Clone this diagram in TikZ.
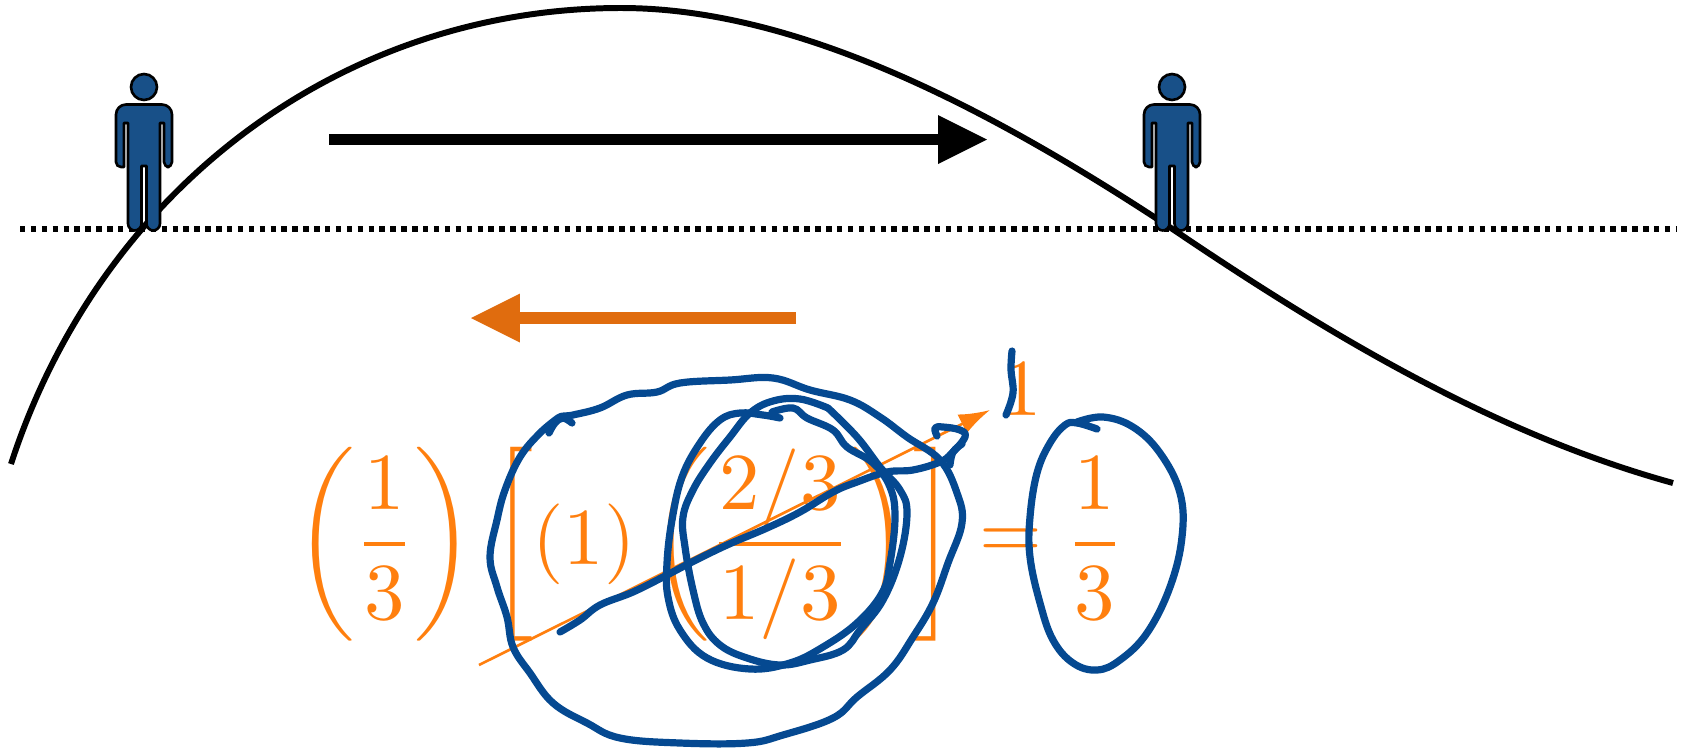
\documentclass[tikz,border=0pt]{standalone}
\usepackage{amsmath, amssymb}
\usepackage{xcolor}
\usetikzlibrary{arrows.meta, positioning, calc}
\definecolor{inkblue}{RGB}{5,73,145}
\definecolor{figblue}{RGB}{24,80,136}
\definecolor{mathorange}{RGB}{255,127,14}
\definecolor{arroworange}{RGB}{224,108,14}
\newcommand{\fracstrut}{\vphantom{\left(\dfrac{1}{3}\right)}}

\begin{document}
\begin{tikzpicture}[
  x=0.02cm, y=-0.02cm,
  curve/.style={line width=3.4pt, black},
  ground/.style={line width=3pt, black, dash pattern=on 3.1pt off 3.1pt},
  bigarr/.style={-{Triangle[length=0.98cm, width=0.98cm, line width=0pt]}, line width=6.8pt},
  ink/.style={line width=4.1pt, inkblue, line cap=round, line join=round},
  eqn/.style={inner sep=0pt, outer sep=0pt, scale=4.6, text=mathorange},
  person/.pic={
    \draw[fill=figblue, draw=black, line width=1.5pt] (0,87) circle[radius=0.26cm];
    \draw[fill=figblue, draw=black, line width=1.5pt, line join=round]
      (-20,123) -- (-20,167) [rounded corners=0.1cm] -- (-28,167) [rounded corners=0.2cm] -- (-28,104.5) -- (28,104.5) [rounded corners=0.1cm] -- (28,167) -- (20,167) [sharp corners] -- (20,123) -- (16,123)
      [rounded corners=0.14cm] -- (16,230.5) -- (2.5,230.5) [sharp corners] -- (2.5,166) -- (-2.5,166)
      [rounded corners=0.14cm] -- (-2.5,230.5) -- (-16,230.5) [sharp corners] -- (-16,123) -- cycle;
  }
]
\useasboundingbox (0,0) rectangle (1687,748);

\coordinate (groundL) at (20,229);
\coordinate (groundR) at (1677,229);
\coordinate (blackS) at (329,139.5);
\coordinate (blackE) at (987,139.5);
\coordinate (orangeS) at (796,318);
\coordinate (orangeE) at (471,318);
\coordinate (slopeS) at (479,665);
\coordinate (slopeE) at (990,410);

\draw[curve] (11,464) .. controls (100,190) and (340,8) .. (621,8) .. controls (800,8) and (994,111) .. (1174,230) .. controls (1344,345) and (1503,436) .. (1673,483);
\draw[ground] (groundL) -- (groundR);

\pic at (144,0) {person};
\pic at (1172,0) {person};

\draw[bigarr, black] (blackS) -- (blackE);
\draw[bigarr, arroworange] (orangeS) -- (orangeE);

\draw[mathorange, line width=1.5pt, -{Latex[length=0.62cm, width=0.42cm]}] (slopeS) -- (slopeE);

\node[eqn] (third) at (384.5,544) {$\left(\dfrac{1}{3}\right)$};
\node[eqn] (brackL) at (517,544) {$\left[\fracstrut\right.$};
\node[eqn] (one) at (584,544) {$(1)$};
\node[eqn] (ratio) at (780,544) {$\left(\dfrac{2/3}{1/3}\right)$};
\node[eqn] (brackR) at (930,544) {$\left.\fracstrut\right]$};
\node[eqn] (equals) at (1011,544) {$=$};
\node[eqn] (result) at (1095,544) {$\fracstrut\dfrac{1}{3}$};
\node[eqn, anchor=base] (slopeval) at (1022,415) {$1$};

\draw[ink] plot[smooth, tension=0.65] coordinates {(572,423) (563,418) (555,423) (549,433) (558,418) (573,415) (600,408) (627,395) (657,392) (680,383) (730,380) (773,378) (810,390) (850,400) (880,417) (907,437) (940,460) (957,493) (962,523) (948,563) (933,603) (913,637) (890,670) (857,697) (833,718) (783,735) (747,743) (680,743) (620,738) (587,723) (553,703) (530,673) (513,647) (507,617) (497,587) (490,557) (497,520) (505,490) (520,457) (540,433) (558,418)};
\draw[ink] plot[smooth, tension=0.65] coordinates {(828,408) (800,399) (773,401) (750,413) (730,437) (710,463) (693,490) (683,517) (685,547) (693,590) (703,623) (720,645) (747,658) (780,665) (810,660) (843,650) (860,630) (883,600) (900,557) (907,513) (900,490) (880,467) (857,437) (828,408)};
\draw[ink] plot[smooth, tension=0.65] coordinates {(772,412) (793,408) (807,418) (833,430) (847,447) (873,463) (890,487) (895,517) (890,563) (882,593) (857,623) (823,647) (790,663) (750,669) (707,658) (680,630) (668,597) (667,563) (672,520) (682,477) (700,443) (720,420) (740,413) (763,415) (780,418)};
\draw[ink] plot[smooth, tension=0.65] coordinates {(560,632) (580,620) (600,605) (633,592) (667,575) (690,563) (727,545) (767,528) (800,512) (833,492) (857,482) (887,472) (913,470) (940,462) (952,453) (965,437) (960,430) (943,427) (935,428) (937,436)};
\draw[ink] plot[smooth, tension=0.65] coordinates {(950,465) (953,452) (962,444)};
\draw[ink] plot[smooth, tension=0.65] coordinates {(1012,351) (1011,370) (1013,393) (1006,415)};
\draw[ink] plot[smooth, tension=0.65] coordinates {(1097,429) (1077,423) (1065,425) (1050,443) (1037,473) (1030,517) (1030,557) (1040,603) (1053,640) (1073,663) (1097,670) (1120,660) (1147,633) (1170,587) (1182,537) (1180,493) (1160,453) (1133,427) (1103,417) (1077,422)};
\end{tikzpicture}
\end{document}
